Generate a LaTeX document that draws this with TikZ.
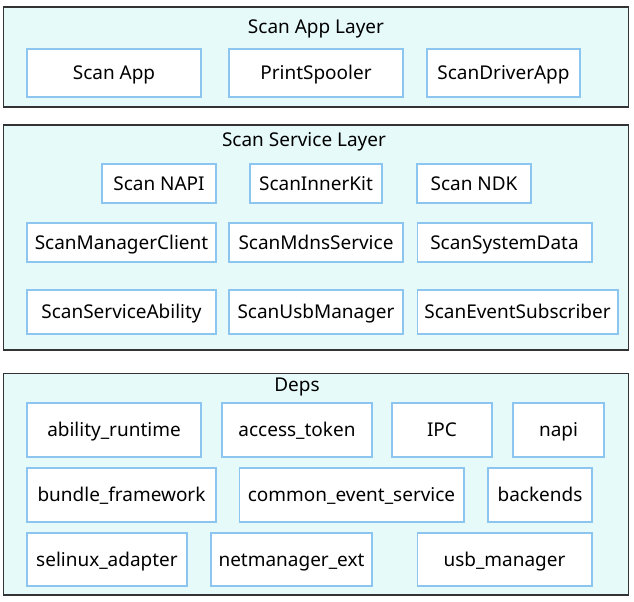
\documentclass[tikz,border=0pt]{standalone}
\usepackage{fontspec}
\setmainfont{Noto Sans}
\usepackage{tikz}
\usetikzlibrary{positioning}
\definecolor{layerfill}{HTML}{E6FAFA}
\definecolor{layerline}{HTML}{333333}
\definecolor{boxline}{HTML}{8CC6F0}

\begin{document}
\begin{tikzpicture}[x=0.02cm,y=-0.02cm,
    every node/.style={font=\fontsize{10.8}{13}\selectfont,text height=1.75ex,text depth=0.35ex},
    layer/.style={draw=layerline,fill=layerfill,line width=0.6pt,inner sep=0pt,minimum width=12.52cm},
    comp/.style={draw=boxline,fill=white,line width=0.6pt,inner sep=0pt}]
  \useasboundingbox (0,0) rectangle (634,601);
  % layers
  \node[layer,minimum height=2.0cm]  (applayer) at (316,57)    {};
  \node[layer,minimum height=4.5cm]  (svclayer) at (316,237.5) {};
  \node[layer,minimum height=4.44cm] (depslayer) at (316,484)  {};
  \node (apptitle)  at (316,27)  {Scan App Layer};
  \node (svctitle)  at (304,140) {Scan Service Layer};
  \node (depstitle) at (297,385) {Deps};

  % app layer
  \node[comp,minimum width=3.48cm,minimum height=0.96cm] (scanapp)   at (114,73)   {Scan App};
  \node[comp,minimum width=3.48cm,minimum height=0.96cm] (spooler)   at (316,73)   {PrintSpooler};
  \node[comp,minimum width=3.06cm,minimum height=0.96cm] (driverapp) at (503.5,73) {ScanDriverApp};

  % service layer
  \node[comp,minimum width=2.28cm,minimum height=0.78cm] (napi)     at (159,183.5)   {Scan NAPI};
  \node[comp,minimum width=2.64cm,minimum height=0.78cm] (innerkit) at (316,183.5)   {ScanInnerKit};
  \node[comp,minimum width=2.28cm,minimum height=0.78cm] (ndk)      at (474,183.5)   {Scan NDK};
  \node[comp,minimum width=3.78cm,minimum height=0.78cm] (client)   at (121.5,242.5) {ScanManagerClient};
  \node[comp,minimum width=3.48cm,minimum height=0.78cm] (mdns)     at (316,242.5)   {ScanMdnsService};
  \node[comp,minimum width=3.5cm,minimum height=0.78cm]  (sysdata)  at (504.5,242.5) {ScanSystemData};
  \node[comp,minimum width=3.78cm,minimum height=0.88cm] (ability)  at (121.5,312)   {ScanServiceAbility};
  \node[comp,minimum width=3.48cm,minimum height=0.88cm] (usbmgr)   at (316,312)     {ScanUsbManager};
  \node[comp,minimum width=4.02cm,minimum height=0.88cm] (eventsub) at (517.5,312)   {ScanEventSubscriber};

  % deps
  \node[comp,minimum width=3.48cm,minimum height=1.08cm] (abilityrt) at (114,430)   {ability\_runtime};
  \node[comp,minimum width=3.0cm,minimum height=1.08cm]  (token)     at (297,430)   {access\_token};
  \node[comp,minimum width=2.0cm,minimum height=1.08cm]  (ipc)       at (442,430)   {IPC};
  \node[comp,minimum width=1.82cm,minimum height=1.08cm] (depnapi)   at (558.5,430) {napi};
  \node[comp,minimum width=3.78cm,minimum height=1.08cm] (bundle)    at (121.5,495) {bundle\_framework};
  \node[comp,minimum width=4.5cm,minimum height=1.08cm]  (cevent)    at (351.5,495) {common\_event\_service};
  \node[comp,minimum width=2.08cm,minimum height=1.08cm] (backends)  at (540,495)   {backends};
  \node[comp,minimum width=3.2cm,minimum height=1.06cm]  (selinux)   at (107,559.5) {selinux\_adapter};
  \node[comp,minimum width=3.22cm,minimum height=1.06cm] (netmgr)    at (291.5,559.5) {netmanager\_ext};
  \node[comp,minimum width=3.5cm,minimum height=1.06cm]  (usbdep)    at (504.5,559.5) {usb\_manager};
\end{tikzpicture}
\end{document}
